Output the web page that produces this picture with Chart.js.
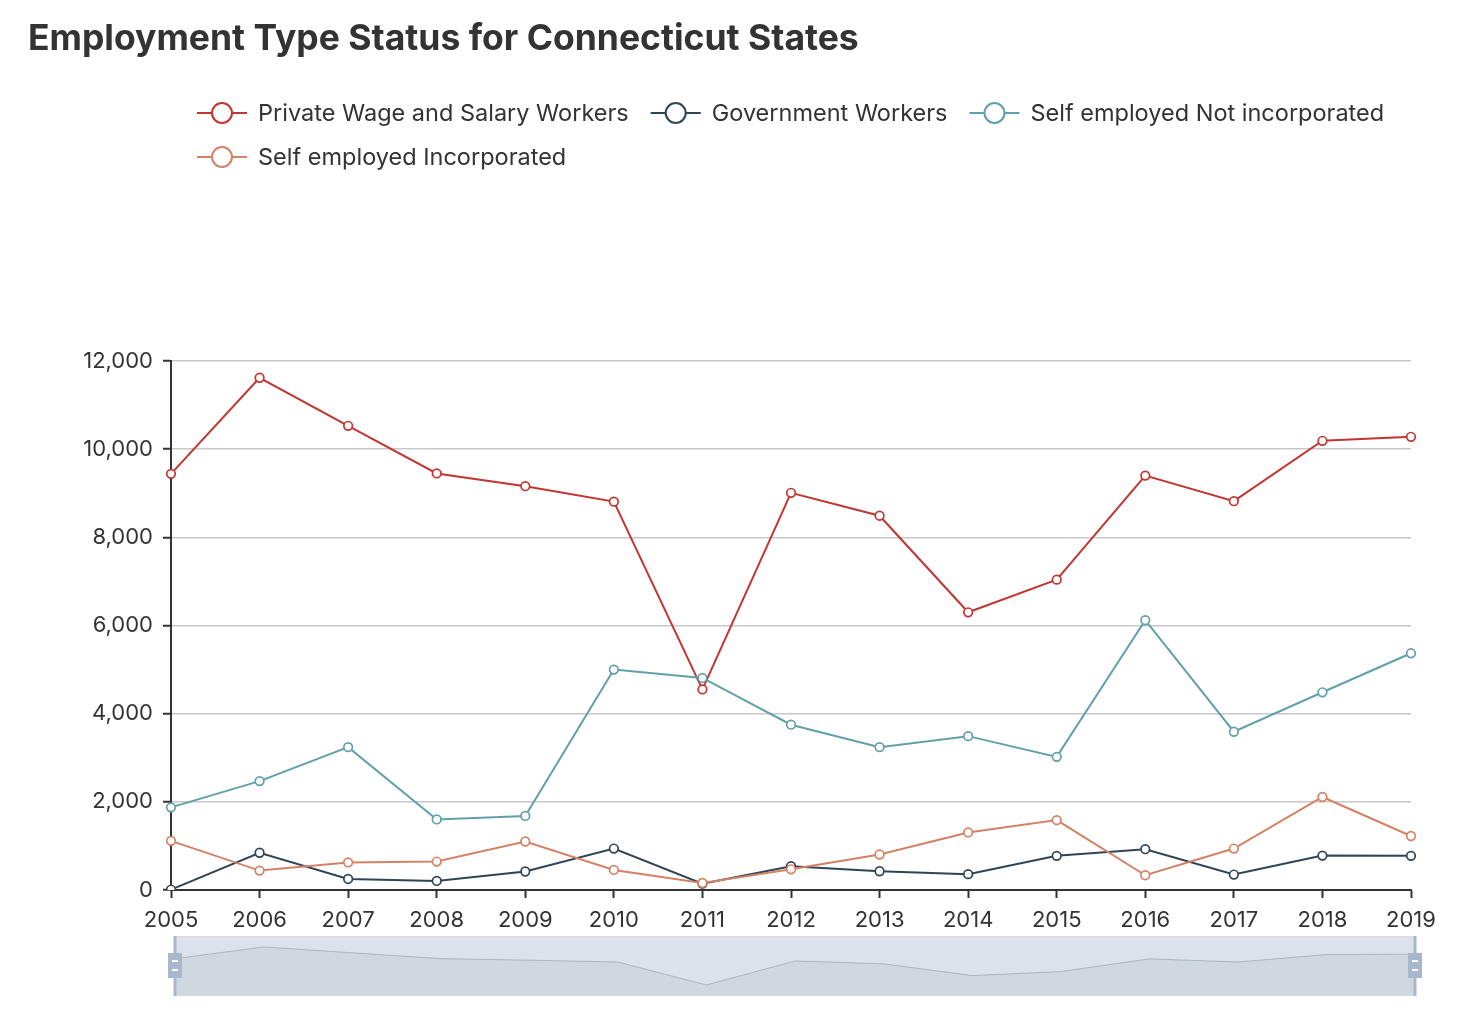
<!DOCTYPE html>
<html>
<head>
<meta charset="utf-8">
<style>
  html, body { margin: 0; padding: 0; background: #fff; }
  #wrap { position: relative; width: 1464px; height: 1022px; }
  #main { position: absolute; left: 0; top: 0; }
  #zoomBox { position: absolute; left: 165px; top: 936px; width: 1260px; height: 60px; }
</style>
<script src="https://cdn.jsdelivr.net/npm/chart.js@4.4.0/dist/chart.umd.min.js"></script>
</head>
<body>
<div id="wrap">
  <canvas id="main" width="1464" height="1022"></canvas>
  <div id="zoomBox"><canvas id="zoomChart" width="1260" height="60"></canvas></div>
</div>
<script>
const titleText = 'Employment Type Status for Connecticut States';
const years = ['2005','2006','2007','2008','2009','2010','2011','2012','2013','2014','2015','2016','2017','2018','2019'];

const privateWage = [9440, 11620, 10530, 9450, 9160, 8810, 4550, 9010, 8490, 6300, 7040, 9400, 8820, 10190, 10280];
const government  = [10, 845, 250, 205, 420, 940, 145, 540, 425, 360, 775, 925, 350, 780, 775];
const selfNotInc  = [1875, 2470, 3240, 1600, 1680, 5000, 4810, 3750, 3240, 3490, 3020, 6120, 3590, 4485, 5370];
const selfInc     = [1115, 440, 625, 645, 1100, 455, 160, 470, 805, 1305, 1585, 335, 940, 2110, 1225];

const seriesNames  = ['Private Wage and Salary Workers', 'Government Workers', 'Self employed Not incorporated', 'Self employed Incorporated'];
const seriesData   = [privateWage, government, selfNotInc, selfInc];
const seriesColors = ['#c23531', '#2f4554', '#61a0a8', '#d48265'];

const yMax = 12000;
const yStep = 2000;

const FONT = 'Inter, "Liberation Sans", Arial, sans-serif';

// title + legend (echarts style: line with hollow circle)
const headerPlugin = {
  id: 'header',
  afterDraw(chart) {
    const ctx = chart.ctx;
    ctx.save();
    ctx.fillStyle = '#333';
    ctx.font = 'bold 35.5px ' + FONT;
    ctx.textBaseline = 'alphabetic';
    ctx.textAlign = 'left';
    ctx.fillText(titleText, 28, 50);

    ctx.font = '23.5px ' + FONT;
    ctx.textBaseline = 'middle';
    let x = 197, y = 113;
    chart.data.datasets.forEach(ds => {
      const w = 61 + ctx.measureText(ds.label).width;
      if (x + w > 1420) { x = 197; y += 44; }
      ctx.strokeStyle = ds.borderColor;
      ctx.lineWidth = 2;
      ctx.beginPath();
      ctx.moveTo(x, y);
      ctx.lineTo(x + 50, y);
      ctx.stroke();
      ctx.beginPath();
      ctx.arc(x + 25, y, 10, 0, Math.PI * 2);
      ctx.fillStyle = '#fff';
      ctx.fill();
      ctx.stroke();
      ctx.fillStyle = '#333';
      ctx.fillText(ds.label, x + 61, y + 1);
      x += w + 22;
    });
    ctx.restore();
  }
};

new Chart(document.getElementById('main'), {
  type: 'line',
  plugins: [headerPlugin],
  data: {
    labels: years,
    datasets: seriesData.map((d, i) => ({
      label: seriesNames[i],
      data: d,
      borderColor: seriesColors[i],
      backgroundColor: '#fff',
      pointBackgroundColor: '#fff',
      pointBorderColor: seriesColors[i],
      borderWidth: 2,
      pointRadius: 4.3,
      pointBorderWidth: 1.7,
      tension: 0,
      order: -i
    }))
  },
  options: {
    responsive: false,
    animation: false,
    layout: { padding: { left: 0, right: 53, top: 361, bottom: 92 } },
    plugins: {
      legend: { display: false },
      title: { display: false },
      tooltip: { enabled: false }
    },
    scales: {
      x: {
        offset: false,
        grid: { drawOnChartArea: false, tickLength: 8, tickColor: '#333', tickWidth: 2 },
        border: { color: '#333', width: 2 },
        ticks: { color: '#333', font: { family: FONT, size: 22 }, padding: 9, maxRotation: 0, autoSkip: false },
        afterFit(s) { s.height = 40; }
      },
      y: {
        min: 0,
        max: yMax,
        grid: { color: '#c8c8c8', lineWidth: 1.5, tickLength: 8, tickColor: '#333', tickWidth: 2 },
        border: { color: '#333', width: 2 },
        ticks: { stepSize: yStep, color: '#333', font: { family: FONT, size: 22 }, padding: 10 },
        afterFit(s) { s.width = 171; }
      }
    }
  }
});

// dataZoom slider look-alike with data shadow of the first series
const sliderPlugin = {
  id: 'slider',
  beforeDatasetsDraw(chart) {
    const { ctx, chartArea: a } = chart;
    ctx.save();
    ctx.fillStyle = '#dce2eb';
    ctx.fillRect(a.left, a.top, a.right - a.left, a.bottom - a.top);
    ctx.restore();
  },
  afterDraw(chart) {
    const { ctx, chartArea: a } = chart;
    ctx.save();
    ctx.strokeStyle = '#ddd';
    ctx.lineWidth = 1;
    ctx.strokeRect(a.left + 0.5, a.top + 0.5, a.right - a.left - 1, a.bottom - a.top - 1);
    [a.left, a.right].forEach(hx => {
      ctx.fillStyle = '#a7b7cc';
      ctx.fillRect(hx - 1.5, a.top, 3, a.bottom - a.top);
      ctx.fillRect(hx - 7, a.top + 17, 14, 25);
      ctx.fillStyle = '#fff';
      ctx.fillRect(hx - 3, a.top + 24, 6, 2);
      ctx.fillRect(hx - 3, a.top + 33, 6, 2);
    });
    ctx.restore();
  }
};

new Chart(document.getElementById('zoomChart'), {
  type: 'line',
  plugins: [sliderPlugin],
  data: {
    labels: years,
    datasets: [{
      data: privateWage,
      borderColor: 'rgba(47,69,84,0.25)',
      borderWidth: 1,
      backgroundColor: 'rgba(47,69,84,0.07)',
      fill: 'start',
      pointRadius: 0,
      tension: 0
    }]
  },
  options: {
    responsive: false,
    animation: false,
    layout: { padding: { left: 10, right: 10, top: 0, bottom: 0 } },
    plugins: { legend: { display: false }, tooltip: { enabled: false } },
    scales: {
      x: { display: false, offset: false },
      y: { display: false, min: 2500, max: 13650 }
    }
  }
});
</script>
</body>
</html>
